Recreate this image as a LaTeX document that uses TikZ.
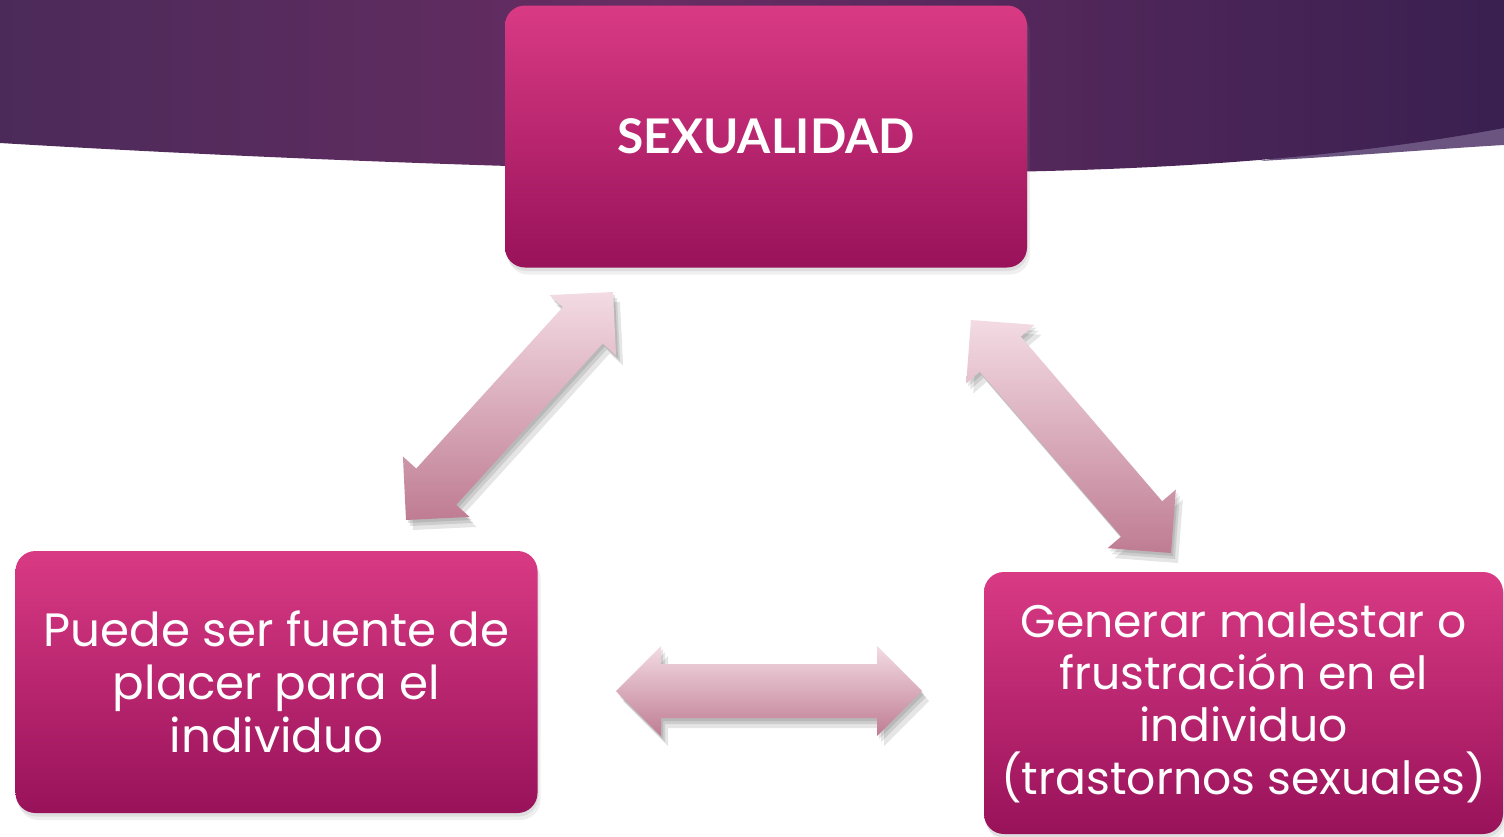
\documentclass[tikz,border=0pt]{standalone}
\usepackage{fontspec}
\setmainfont{Poppins}
\newfontfamily\titlefont{Lato}
\usetikzlibrary{positioning, calc, shadows}
\definecolor{bandleft}{HTML}{4B2A59}
\definecolor{bandmid}{HTML}{682D63}
\definecolor{bandright}{HTML}{392050}
\definecolor{sliver}{HTML}{6B5580}
\definecolor{boxtop}{HTML}{D93A84}
\definecolor{boxbot}{HTML}{98125A}
\definecolor{arrtop}{HTML}{F3DBE3}
\definecolor{arrbot}{HTML}{BF7C93}
\pgfdeclarehorizontalshading{band}{100bp}{color(0bp)=(bandleft); color(25bp)=(bandleft);
  color(47bp)=(bandmid); color(75bp)=(bandright); color(100bp)=(bandright)}

% fat double arrow between two named points
\newcommand{\arrowpath}[2]{(#1)
  -- ($(#1)!0.45cm!(#2)!0.45cm!90:(#2)$) -- ($(#1)!0.45cm!(#2)!0.27cm!90:(#2)$)
  -- ($(#2)!0.45cm!(#1)!0.27cm!-90:(#1)$) -- ($(#2)!0.45cm!(#1)!0.45cm!-90:(#1)$)
  -- (#2)
  -- ($(#2)!0.45cm!(#1)!0.45cm!90:(#1)$) -- ($(#2)!0.45cm!(#1)!0.27cm!90:(#1)$)
  -- ($(#1)!0.45cm!(#2)!0.27cm!-90:(#2)$) -- ($(#1)!0.45cm!(#2)!0.45cm!-90:(#2)$)
  -- cycle}

\begin{document}
\begin{tikzpicture}[
  box/.style={rounded corners=0.2cm, top color=boxtop, bottom color=boxbot,
              minimum width=5.22cm, minimum height=2.62cm, text=white,
              align=center, font=\fontsize{13.3}{15.1}\selectfont,
              drop shadow={opacity=0.12, shadow xshift=0.03cm, shadow yshift=-0.07cm},
              drop shadow={opacity=0.15, shadow xshift=0.01cm, shadow yshift=-0.035cm}},
  arrowbody/.style={top color=arrtop, bottom color=arrbot},
  arrowshade/.style={fill=black, opacity=0.1, transform canvas={shift={(#1)}}}]
  \useasboundingbox (0,0) rectangle (15.04,8.36);
  \fill[white] (0,0) rectangle (15.04,8.36);

  % header band
  \fill[sliver] (12.6,6.75) .. controls (13.8,6.82) and (14.5,6.88) .. (15.04,6.91)
    -- (15.04,7.2) -- cycle;
  \path[shading=band]
    (0,8.36) -- (0,6.93) .. controls (3.5,6.72) and (7.5,6.6) .. (10,6.64)
    .. controls (12.3,6.68) and (13.8,6.85) .. (15.04,7.08) -- (15.04,8.36) -- cycle;

  % boxes
  \node[box] (sex) at (7.66,6.995) {};
  \node[text=white, font=\titlefont\bfseries\fontsize{13.6}{16}\selectfont] (sextxt) at (sex) {SEXUALIDAD};
  \node[box] (placer) at (2.765,1.54) {Puede ser fuente de\\placer para el\\individuo};
  \node[box, minimum width=5.19cm, font=\fontsize{13}{14.9}\selectfont] (malestar) at (12.435,1.33)
    {Generar malestar o\\frustración en el\\individuo\\(trastornos sexuales)};

  % arrow ends
  \coordinate (l1) at (4.06,3.16);
  \coordinate (l2) at (6.13,5.44);
  \coordinate (r1) at (9.71,5.16);
  \coordinate (r2) at (11.71,2.83);
  \coordinate (h1) at (6.16,1.45);
  \coordinate (h2) at (9.22,1.45);

  \foreach \a/\b in {l1/l2, r1/r2, h1/h2} {
    \path[arrowshade={0.07,-0.1}] \arrowpath{\a}{\b};
    \path[arrowshade={0.04,-0.06}] \arrowpath{\a}{\b};
    \path[arrowshade={0.02,-0.03}] \arrowpath{\a}{\b};
    \path[arrowbody] \arrowpath{\a}{\b};
  }
\end{tikzpicture}
\end{document}
